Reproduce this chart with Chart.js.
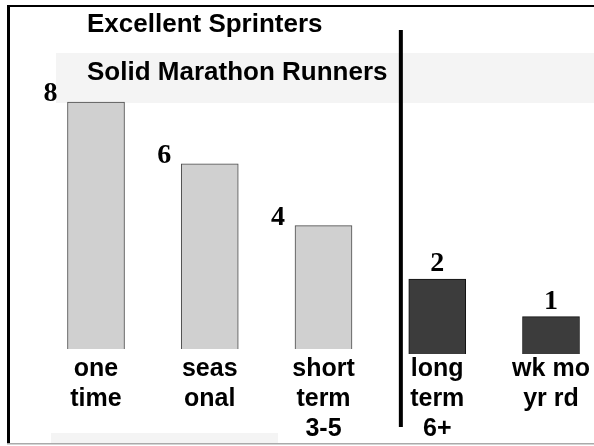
<!DOCTYPE html>
<html>
<head>
<meta charset="utf-8">
<script src="https://cdn.jsdelivr.net/npm/chart.js@4.4.0/dist/chart.umd.min.js"></script>
<style>
  html, body { margin: 0; padding: 0; background: #fff; }
  canvas { display: block; }
</style>
</head>
<body>
<canvas id="myChart" width="594" height="446"></canvas>
<script>
// data
var categories = [['one', 'time'], ['seas', 'onal'], ['short', 'term', '3-5'], ['long', 'term', '6+'], ['wk mo', 'yr rd']];
var lightValues = [8, 6, 4, null, null];
var darkValues = [null, null, null, 2, 1];
var headings = ['Excellent Sprinters', 'Solid Marathon Runners'];
var dividerAt = 2.68; // between "short term" and "long term", in category units

// background, bands, frame, headings
const decorations = {
    id: 'decorations',
    beforeDraw(chart) {
        const ctx = chart.ctx;
        ctx.save();
        ctx.fillStyle = '#ffffff';
        ctx.fillRect(0, 0, chart.width, chart.height);
        ctx.fillStyle = '#f4f4f4';
        ctx.fillRect(56, 53, 538, 50);
        ctx.fillRect(51, 433, 227, 10);
        ctx.restore();
    },
    afterDraw(chart) {
        const ctx = chart.ctx;
        ctx.save();
        // frame
        ctx.fillStyle = '#000000';
        ctx.fillRect(7, 5, 587, 2);
        ctx.fillRect(7, 5, 3, 438);
        ctx.fillStyle = '#aaaaaa';
        ctx.fillRect(7, 443, 587, 1.5);

        // headings
        ctx.fillStyle = '#000000';
        ctx.font = 'bold 26px "Liberation Sans"';
        ctx.textAlign = 'left';
        ctx.textBaseline = 'alphabetic';
        ctx.fillText(headings[0], 87, 32);
        ctx.fillText(headings[1], 87, 80);

        // divider
        const x = chart.scales.x.getPixelForValue(dividerAt);
        ctx.fillRect(x - 2, 30, 4, 397);

        // value labels
        ctx.font = 'bold 28px "Liberation Serif"';
        chart.data.datasets.forEach((ds, di) => {
            const meta = chart.getDatasetMeta(di);
            meta.data.forEach((bar, i) => {
                const v = ds.data[i];
                if (v == null) return;
                if (di == 0) {
                    ctx.textAlign = 'right';
                    ctx.textBaseline = 'middle';
                    ctx.fillText(String(v), bar.x - bar.width / 2 - 10, bar.y - 8);
                } else {
                    ctx.textAlign = 'center';
                    ctx.textBaseline = 'alphabetic';
                    ctx.fillText(String(v), bar.x, bar.y - 8);
                }
            });
        });
        ctx.restore();
    }
};

var ctx = document.getElementById('myChart').getContext('2d');
var chart = new Chart(ctx, {
    type: 'bar',
    data: {
        labels: categories,
        datasets: [{
            data: lightValues,
            yAxisID: 'yLight',
            backgroundColor: '#d0d0d0',
            borderColor: '#4a4a4a',
            borderWidth: 1,
            grouped: false,
            clip: false
        }, {
            data: darkValues,
            yAxisID: 'yDark',
            backgroundColor: '#3c3c3c',
            borderColor: '#111111',
            borderWidth: 1,
            grouped: false,
            clip: false
        }]
    },
    options: {
        responsive: false,
        animation: false,
        layout: { padding: { top: 92, left: 96, right: 43, bottom: 0 } },
        plugins: {
            legend: { display: false },
            tooltip: { enabled: false }
        },
        datasets: { bar: { barThickness: 57 } },
        scales: {
            x: {
                offset: false,
                grid: { display: false, drawTicks: false },
                border: { display: false },
                ticks: {
                    autoSkip: false,
                    maxRotation: 0,
                    padding: 0,
                    color: '#000000',
                    font: { family: 'Liberation Sans', size: 25, weight: 'bold', lineHeight: 1.2 }
                },
                afterFit(scale) { scale.height = 92; }
            },
            yLight: { display: false, min: -0.16, max: 8.33 },
            yDark: { display: false, min: 0, max: 7 }
        }
    },
    plugins: [decorations]
});
</script>
</body>
</html>
